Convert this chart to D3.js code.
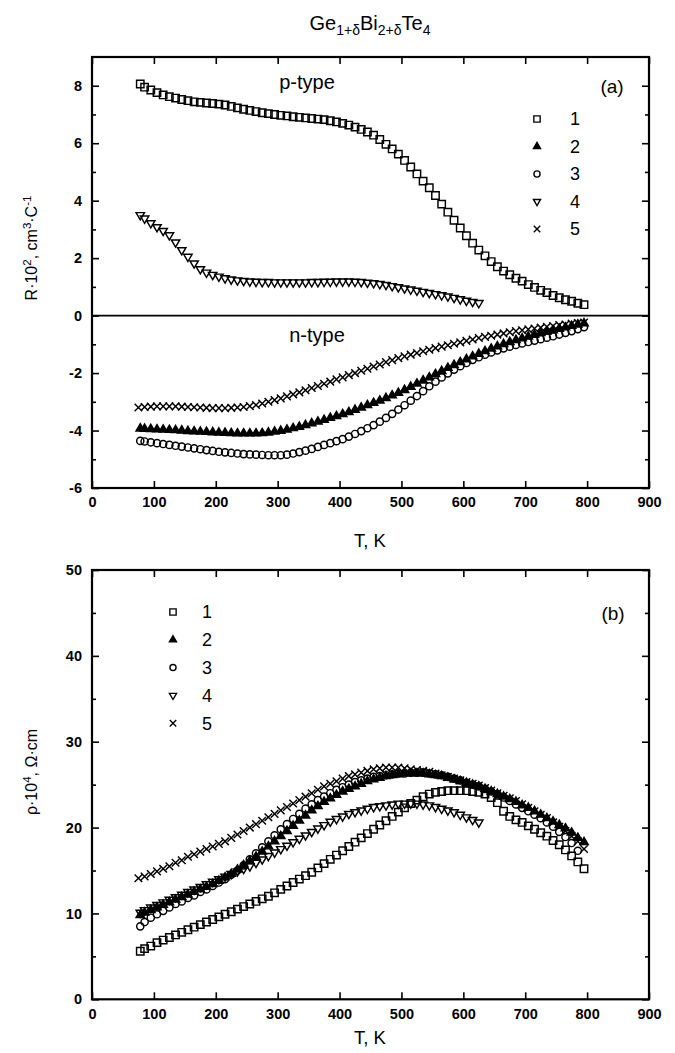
<!DOCTYPE html>
<html><head><meta charset="utf-8">
<script src="https://cdn.jsdelivr.net/npm/d3@7"></script>
<style>
body{margin:0;background:#fff;}
svg{display:block;font-family:"Liberation Sans",Arial,sans-serif;}
</style></head>
<body><svg id="c" width="675" height="1053"></svg>
<script>
// ---------- DATA ----------
const TA = [78,85,95,105,115,125,135,145,155,165,175,185,195,205,215,225,235,245,255,265,275,285,295,305,315,325,335,345,355,365,375,385,395,405,415,425,435,445,455,465,475,485,495,505,515,525,535,545,555,565,575,585,595,605,615,625,635,645,655,665,675,685,695,705,715,725,735,745,755,765,775,785,795];
const T4 = [78,85,95,105,115,125,135,145,155,165,175,185,195,205,215,225,235,245,255,265,275,285,295,305,315,325,335,345,355,365,375,385,395,405,415,425,435,445,455,465,475,485,495,505,515,525,535,545,555,565,575,585,595,605,615,625];
const T5 = [75,85,95,105,115,125,135,145,155,165,175,185,195,205,215,225,235,245,255,265,275,285,295,305,315,325,335,345,355,365,375,385,395,405,415,425,435,445,455,465,475,485,495,505,515,525,535,545,555,565,575,585,595,605,615,625,635,645,655,665,675,685,695,705,715,725,735,745,755,765,775,785,795];

// (a) Hall coefficient R·10^2
const R1 = [8.06,7.95,7.85,7.76,7.68,7.62,7.57,7.52,7.48,7.44,7.42,7.40,7.38,7.36,7.33,7.28,7.23,7.18,7.14,7.10,7.06,7.03,7.00,6.97,6.95,6.92,6.90,6.88,6.86,6.84,6.82,6.78,6.74,6.69,6.63,6.56,6.48,6.39,6.28,6.13,5.96,5.80,5.62,5.40,5.17,4.93,4.68,4.45,4.18,3.88,3.60,3.32,3.05,2.78,2.52,2.28,2.08,1.88,1.70,1.55,1.42,1.30,1.20,1.08,0.98,0.88,0.80,0.70,0.62,0.55,0.50,0.43,0.38];
const R2 = [-3.93,-3.94,-3.95,-3.96,-3.97,-3.98,-3.99,-4.00,-4.02,-4.03,-4.04,-4.05,-4.06,-4.07,-4.08,-4.09,-4.10,-4.10,-4.10,-4.10,-4.09,-4.07,-4.04,-4.01,-3.97,-3.92,-3.87,-3.81,-3.75,-3.69,-3.63,-3.56,-3.50,-3.43,-3.36,-3.28,-3.20,-3.12,-3.04,-2.96,-2.87,-2.78,-2.69,-2.59,-2.48,-2.37,-2.26,-2.15,-2.04,-1.93,-1.82,-1.72,-1.62,-1.52,-1.42,-1.33,-1.24,-1.15,-1.07,-0.99,-0.92,-0.85,-0.79,-0.73,-0.67,-0.61,-0.56,-0.51,-0.46,-0.41,-0.36,-0.31,-0.27];
const R3 = [-4.36,-4.38,-4.41,-4.44,-4.47,-4.50,-4.53,-4.56,-4.59,-4.62,-4.65,-4.68,-4.71,-4.74,-4.76,-4.78,-4.80,-4.82,-4.83,-4.84,-4.85,-4.86,-4.86,-4.86,-4.84,-4.80,-4.75,-4.70,-4.64,-4.57,-4.50,-4.44,-4.37,-4.30,-4.21,-4.12,-4.02,-3.92,-3.81,-3.69,-3.56,-3.42,-3.27,-3.12,-2.96,-2.80,-2.63,-2.46,-2.30,-2.15,-2.01,-1.88,-1.76,-1.65,-1.54,-1.45,-1.36,-1.28,-1.21,-1.14,-1.08,-1.02,-0.97,-0.92,-0.87,-0.82,-0.77,-0.72,-0.66,-0.60,-0.54,-0.47,-0.40];
const R4 = [3.50,3.38,3.22,3.08,2.95,2.80,2.55,2.28,2.05,1.82,1.62,1.50,1.42,1.36,1.30,1.26,1.23,1.21,1.19,1.18,1.17,1.17,1.16,1.16,1.16,1.16,1.16,1.16,1.17,1.17,1.18,1.18,1.19,1.19,1.19,1.18,1.17,1.15,1.13,1.10,1.07,1.03,0.99,0.95,0.91,0.87,0.83,0.79,0.75,0.71,0.67,0.62,0.57,0.52,0.48,0.44];
const R5 = [-3.20,-3.18,-3.17,-3.16,-3.16,-3.16,-3.16,-3.17,-3.18,-3.19,-3.20,-3.21,-3.22,-3.22,-3.22,-3.21,-3.20,-3.18,-3.15,-3.11,-3.06,-3.00,-2.94,-2.88,-2.81,-2.74,-2.67,-2.60,-2.52,-2.45,-2.37,-2.30,-2.22,-2.15,-2.07,-2.00,-1.92,-1.85,-1.77,-1.70,-1.62,-1.55,-1.48,-1.42,-1.36,-1.30,-1.24,-1.19,-1.13,-1.08,-1.03,-0.98,-0.93,-0.88,-0.83,-0.78,-0.74,-0.70,-0.66,-0.62,-0.58,-0.54,-0.51,-0.48,-0.45,-0.42,-0.39,-0.36,-0.33,-0.31,-0.28,-0.26,-0.24];

// (b) resistivity rho·10^4
const P1 = [5.6,5.9,6.2,6.6,6.9,7.2,7.5,7.8,8.1,8.4,8.7,9.0,9.3,9.6,9.9,10.2,10.5,10.8,11.1,11.4,11.7,12.0,12.4,12.8,13.2,13.6,14.0,14.4,14.8,15.3,15.8,16.3,16.8,17.3,17.8,18.3,18.8,19.3,19.8,20.3,20.8,21.3,21.8,22.3,22.8,23.2,23.6,23.9,24.1,24.2,24.3,24.3,24.3,24.3,24.2,24.1,23.9,23.5,22.9,21.9,21.3,20.9,20.6,20.2,19.8,19.4,19.0,18.5,18.0,17.4,16.7,16.0,15.2];
const P2 = [9.8,10.1,10.4,10.7,11.0,11.3,11.6,11.9,12.2,12.5,12.8,13.1,13.4,13.8,14.2,14.6,15.1,15.6,16.1,16.6,17.2,17.8,18.4,19.0,19.6,20.2,20.8,21.4,22.0,22.5,23.0,23.4,23.8,24.2,24.5,24.8,25.1,25.4,25.6,25.8,26.0,26.1,26.2,26.3,26.3,26.3,26.3,26.2,26.1,26.0,25.8,25.6,25.4,25.2,25.0,24.8,24.5,24.2,23.9,23.6,23.3,23.0,22.6,22.3,21.9,21.5,21.1,20.7,20.3,19.9,19.4,18.8,18.3];
const P3 = [8.5,9.0,9.5,9.9,10.3,10.7,11.1,11.4,11.8,12.1,12.5,12.8,13.2,13.6,14.0,14.5,15.0,15.6,16.3,17.0,17.7,18.4,19.1,19.8,20.4,21.0,21.6,22.2,22.7,23.2,23.6,24.0,24.4,24.7,25.0,25.3,25.5,25.7,25.9,26.0,26.1,26.2,26.3,26.3,26.4,26.4,26.4,26.3,26.2,26.1,25.9,25.7,25.5,25.2,25.0,24.8,24.5,24.2,23.9,23.5,23.1,22.7,22.3,21.9,21.5,21.1,20.6,20.1,19.5,18.9,18.2,17.3];
const P4 = [10.1,10.4,10.7,11.0,11.3,11.6,11.9,12.2,12.5,12.8,13.1,13.4,13.7,14.0,14.3,14.6,14.9,15.2,15.5,15.9,16.3,16.7,17.1,17.5,17.9,18.3,18.7,19.1,19.5,19.9,20.3,20.7,21.0,21.3,21.6,21.8,22.0,22.2,22.4,22.5,22.6,22.7,22.8,22.8,22.8,22.8,22.7,22.6,22.4,22.2,22.0,21.8,21.5,21.2,20.9,20.6];
const P5 = [14.1,14.3,14.6,14.9,15.2,15.5,15.9,16.2,16.6,16.9,17.2,17.5,17.8,18.1,18.4,18.8,19.2,19.6,20.0,20.4,20.8,21.2,21.6,22.0,22.4,22.8,23.2,23.6,24.0,24.4,24.8,25.1,25.4,25.7,26.0,26.2,26.4,26.6,26.8,26.9,27.0,27.0,27.0,26.9,26.8,26.7,26.6,26.5,26.3,26.1,25.9,25.7,25.5,25.3,25.1,24.9,24.6,24.3,24.0,23.7,23.4,23.1,22.7,22.3,21.9,21.5,21.1,20.6,20.1,19.6,19.0,18.4,17.5];

const xTicks = [0,100,200,300,400,500,600,700,800,900];
const yTicksA = [-6,-4,-2,0,2,4,6,8];
const yMinorA = [-5,-3,-1,1,3,5,7];
const yTicksB = [0,10,20,30,40,50];
const yMinorB = [5,15,25,35,45];
const legendLabels = ["1","2","3","4","5"];

// ---------- DRAW ----------
const svg = d3.select("#c");
const L = 92, R = 649;
const x = d3.scaleLinear().domain([0,900]).range([L,R]);
const yA = d3.scaleLinear().domain([-6,9]).range([488,57]);
const yB = d3.scaleLinear().domain([0,50]).range([999.3,570]);
const fmt = d => String(d);

// marker shapes
const shapes = [
  {d:"M-3.7,-3.7h7.4v7.4h-7.4z", fill:"none"},             // square
  {d:"M0,-4.8L4.2,2.4L-4.2,2.4Z", fill:"#000"},             // filled triangle up
  {d:"M3.6,0A3.6,3.6 0 1,1 -3.6,0A3.6,3.6 0 1,1 3.6,0Z", fill:"none"}, // circle
  {d:"M0,4.8L4.2,-2.4L-4.2,-2.4Z", fill:"none"},            // open triangle down
  {d:"M-3.8,-3.8L3.8,3.8M-3.8,3.8L3.8,-3.8", fill:"none"}   // cross
];

function drawPanel(y, yTicks, yMinor, series, withZero) {
  const top = y.range()[1], bot = y.range()[0];
  const g = svg.append("g");
  g.append("g").attr("transform",`translate(0,${bot})`)
    .call(d3.axisBottom(x).tickValues(xTicks).tickSize(-7).tickSizeOuter(0).tickPadding(9).tickFormat(fmt));
  g.append("g").attr("transform",`translate(0,${top})`)
    .call(d3.axisTop(x).tickValues(xTicks).tickSize(-7).tickSizeOuter(0).tickFormat(""));
  g.append("g").attr("transform",`translate(${L},0)`)
    .call(d3.axisLeft(y).tickValues(yTicks).tickSize(-7).tickSizeOuter(0).tickPadding(10).tickFormat(fmt));
  g.append("g").attr("transform",`translate(${L},0)`)
    .call(d3.axisLeft(y).tickValues(yMinor).tickSize(-4).tickSizeOuter(0).tickFormat(""));
  g.append("g").attr("transform",`translate(${R},0)`)
    .call(d3.axisRight(y).tickValues(yTicks).tickSize(-7).tickSizeOuter(0).tickFormat(""));
  g.append("g").attr("transform",`translate(${R},0)`)
    .call(d3.axisRight(y).tickValues(yMinor).tickSize(-4).tickSizeOuter(0).tickFormat(""));
  g.selectAll(".domain").remove();
  g.selectAll(".tick line").attr("stroke","#000").attr("stroke-width",1.6);
  g.selectAll(".tick text").attr("font-size",14.5).attr("font-weight","bold").attr("fill","#000")
    .attr("font-family","'Liberation Sans',Arial,sans-serif");
  g.append("rect").attr("x",L).attr("y",top).attr("width",R-L).attr("height",bot-top)
    .attr("fill","none").attr("stroke","#000").attr("stroke-width",2.2);
  if (withZero) {
    g.append("line").attr("x1",L).attr("x2",R).attr("y1",y(0)).attr("y2",y(0))
      .attr("stroke","#000").attr("stroke-width",1.8);
  }
  series.forEach(s => {
    const sh = shapes[s.k];
    g.append("g").selectAll("path").data(s.v).join("path")
      .attr("transform",(d,i)=>`translate(${x(s.t[i])},${y(d)})`)
      .attr("d",sh.d).attr("fill",sh.fill).attr("stroke","#000").attr("stroke-width",1.45);
  });
  return g;
}

drawPanel(yA, yTicksA, yMinorA, [
  {k:0,t:TA,v:R1},{k:3,t:T4,v:R4},{k:1,t:TA,v:R2},{k:2,t:TA,v:R3},{k:4,t:T5,v:R5}
], true);
drawPanel(yB, yTicksB, yMinorB, [
  {k:0,t:TA,v:P1},{k:1,t:TA,v:P2},{k:2,t:TA,v:P3},{k:3,t:T4,v:P4},{k:4,t:T5,v:P5}
], false);

// legends
function legend(sx, lx, y0, dy) {
  legendLabels.forEach((lab,i)=>{
    const sh = shapes[i];
    svg.append("path").attr("transform",`translate(${sx},${y0+i*dy}) scale(0.85)`)
      .attr("d",sh.d).attr("fill",sh.fill).attr("stroke","#000").attr("stroke-width",1.6);
    svg.append("text").attr("x",lx).attr("y",y0+i*dy).attr("dy","0.36em")
      .attr("text-anchor","middle").attr("font-size",18).text(lab);
  });
}
legend(537, 575, 119, 27.5);
legend(173, 207, 612, 27.8);

function txt(x0,y0,s,size){
  return svg.append("text").attr("x",x0).attr("y",y0).attr("dy","0.35em")
    .attr("text-anchor","middle").attr("font-size",size).text(s);
}
txt(612,86,"(a)",19);
txt(613,613,"(b)",19);
txt(307,82,"p-type",20);
txt(317,335,"n-type",20);
txt(370,541,"T, K",18.5);
txt(370,1038,"T, K",18.5);

// title with subscripts
const title = svg.append("text").attr("x",370).attr("y",30).attr("text-anchor","middle").attr("font-size",20);
title.append("tspan").text("Ge");
title.append("tspan").attr("font-size",14).attr("dy",5).text("1+δ");
title.append("tspan").attr("dy",-5).text("Bi");
title.append("tspan").attr("font-size",14).attr("dy",5).text("2+δ");
title.append("tspan").attr("dy",-5).text("Te");
title.append("tspan").attr("font-size",14).attr("dy",5).text("4");

// y-axis titles
const ya = svg.append("text").attr("transform","translate(37,248) rotate(-90)")
  .attr("text-anchor","middle").attr("font-size",16);
ya.append("tspan").text("R·10");
ya.append("tspan").attr("font-size",11.5).attr("dy",-6).text("2");
ya.append("tspan").attr("dy",6).text(", cm");
ya.append("tspan").attr("font-size",11.5).attr("dy",-6).text("3");
ya.append("tspan").attr("dy",6).text("·C");
ya.append("tspan").attr("font-size",11.5).attr("dy",-6).text("-1");

const yb = svg.append("text").attr("transform","translate(37,772) rotate(-90)")
  .attr("text-anchor","middle").attr("font-size",16);
yb.append("tspan").text("ρ·10");
yb.append("tspan").attr("font-size",11.5).attr("dy",-6).text("4");
yb.append("tspan").attr("dy",6).text(", Ω·cm");
</script></body></html>
